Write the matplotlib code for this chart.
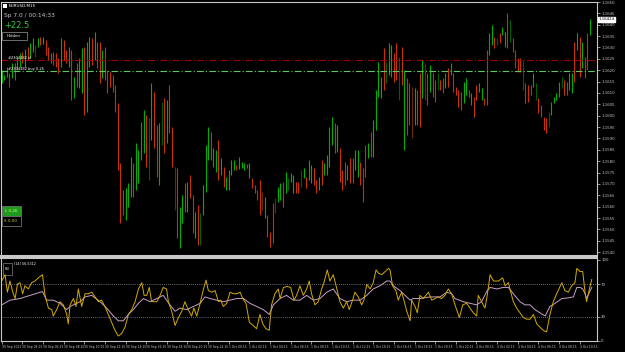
import matplotlib.pyplot as plt
from matplotlib.patches import Rectangle

# M15 bars: high / low and bar colour (g up, r down, d dark up, k dark down)
high = [
    1.16200, 1.16178, 1.16213, 1.16187, 1.16230, 1.16230, 1.16257, 1.16274, 1.16279, 1.16292,
    1.16301, 1.16318, 1.16340, 1.16309, 1.16340, 1.16345, 1.16345, 1.16331, 1.16301, 1.16274,
    1.16279, 1.16274, 1.16252, 1.16340, 1.16331, 1.16288, 1.16301, 1.16288, 1.16169, 1.16230,
    1.16252, 1.16296, 1.16301, 1.16323, 1.16345, 1.16340, 1.16366, 1.16323, 1.16323, 1.16288,
    1.16301, 1.16200, 1.16191, 1.16178, 1.16134, 1.16055, 1.15791, 1.15673, 1.15682, 1.15704,
    1.15818, 1.15791, 1.15879, 1.15849, 1.15971, 1.16024, 1.16002, 1.15989, 1.16143,
    1.16103, 1.15958, 1.15967, 1.16059, 1.16077, 1.16068, 1.16134, 1.15950, 1.15774, 1.15770,
    1.15598, 1.15651, 1.15704, 1.15708, 1.15739, 1.15651, 1.15576, 1.15607, 1.15572, 1.15695,
    1.15870, 1.15950, 1.15928, 1.15857, 1.15849, 1.15892, 1.15813, 1.15774, 1.15730, 1.15761,
    1.15805, 1.15805, 1.15783, 1.15818, 1.15796, 1.15791, 1.15787, 1.15791, 1.15726, 1.15695,
    1.15673, 1.15717, 1.15664, 1.15642, 1.15563, 1.15489, 1.15616, 1.15638, 1.15686, 1.15704,
    1.15708, 1.15752, 1.15726, 1.15748, 1.15739, 1.15708, 1.15708,
    1.15761, 1.15770, 1.15730, 1.15805, 1.15783, 1.15770, 1.15717, 1.15730, 1.15805, 1.15791,
    1.15827, 1.15950, 1.15993, 1.15967, 1.15958, 1.15857, 1.15761, 1.15796, 1.15783, 1.15813,
    1.15813, 1.15849, 1.15849, 1.15796, 1.15770, 1.15870, 1.15879, 1.15928, 1.15980, 1.16112,
    1.16235, 1.16169, 1.16296, 1.16235, 1.16318, 1.16309, 1.16274, 1.16318, 1.16257, 1.16301,
    1.16200, 1.16165, 1.16143, 1.16125, 1.16121, 1.16112, 1.16187, 1.16244, 1.16230, 1.16187,
    1.16222, 1.16187, 1.16156, 1.16187, 1.16156, 1.16165, 1.16187, 1.16209,
    1.16230, 1.16187, 1.16125, 1.16112, 1.16103, 1.16147, 1.16165, 1.16112, 1.16099, 1.16081,
    1.16134, 1.16143, 1.16121, 1.16077, 1.16288, 1.16362, 1.16397, 1.16345, 1.16340, 1.16362,
    1.16389, 1.16366, 1.16450, 1.16419, 1.16340, 1.16288, 1.16252, 1.16252, 1.16244, 1.16143,
    1.16134, 1.16134, 1.16187, 1.16143, 1.16077, 1.16046, 1.15993, 1.15989, 1.16015, 1.16059,
    1.16081, 1.16099, 1.16147, 1.16169, 1.16156, 1.16147, 1.16187, 1.16187, 1.16323, 1.16362,
    1.16345, 1.16323, 1.16257, 1.16362, 1.16424,
]
low = [
    1.16143, 1.16156, 1.16169, 1.16125, 1.16165, 1.16156, 1.16200, 1.16213, 1.16230, 1.16213,
    1.16244, 1.16252, 1.16279, 1.16257, 1.16301, 1.16309, 1.16314, 1.16266, 1.16244, 1.16230,
    1.16222, 1.16213, 1.16187, 1.16213, 1.16244, 1.16230, 1.16213, 1.16068, 1.16077, 1.16125,
    1.16121, 1.16099, 1.16002, 1.16015, 1.16213, 1.16222, 1.16244, 1.16209, 1.16143, 1.16165,
    1.16156, 1.16099, 1.16125, 1.16103, 1.16015, 1.15761, 1.15528, 1.15563, 1.15541, 1.15598,
    1.15642, 1.15642, 1.15673, 1.15704, 1.15805, 1.15835, 1.15774, 1.15717, 1.15892,
    1.15857, 1.15730, 1.15695, 1.15870, 1.15835, 1.15879, 1.15923, 1.15774, 1.15585, 1.15462,
    1.15418, 1.15528, 1.15576, 1.15576, 1.15638, 1.15484, 1.15462, 1.15431, 1.15431, 1.15563,
    1.15664, 1.15805, 1.15805, 1.15774, 1.15752, 1.15717, 1.15739, 1.15686, 1.15673, 1.15673,
    1.15739, 1.15761, 1.15761, 1.15765, 1.15770, 1.15761, 1.15770, 1.15726, 1.15682, 1.15660,
    1.15629, 1.15563, 1.15585, 1.15550, 1.15467, 1.15423, 1.15440, 1.15572, 1.15620, 1.15629,
    1.15598, 1.15660, 1.15673, 1.15708, 1.15660, 1.15660, 1.15660,
    1.15686, 1.15726, 1.15682, 1.15717, 1.15704, 1.15695, 1.15660, 1.15673, 1.15695, 1.15739,
    1.15739, 1.15774, 1.15870, 1.15835, 1.15840, 1.15708, 1.15673, 1.15695, 1.15717, 1.15704,
    1.15704, 1.15761, 1.15730, 1.15695, 1.15620, 1.15730, 1.15813, 1.15818, 1.15818, 1.15936,
    1.16081, 1.16077, 1.16112, 1.16143, 1.16178, 1.16169, 1.16147, 1.16156, 1.16068, 1.16134,
    1.15849, 1.15914, 1.15958, 1.15901, 1.15958, 1.15958, 1.15950, 1.16077, 1.16068, 1.16046,
    1.16103, 1.16081, 1.16059, 1.16112, 1.16112, 1.16099, 1.16121, 1.16125,
    1.16178, 1.16103, 1.16090, 1.16037, 1.16024, 1.16055, 1.16090, 1.16081, 1.16046, 1.15993,
    1.16068, 1.16103, 1.16068, 1.16046, 1.16046, 1.16266, 1.16309, 1.16296, 1.16309, 1.16318,
    1.16353, 1.16301, 1.16296, 1.16323, 1.16279, 1.16209, 1.16191, 1.16191, 1.16112, 1.16055,
    1.16059, 1.16090, 1.16125, 1.16068, 1.16011, 1.15993, 1.15936, 1.15923, 1.15950, 1.16002,
    1.16055, 1.16068, 1.16081, 1.16121, 1.16090, 1.16090, 1.16112, 1.16099, 1.16147, 1.16288,
    1.16169, 1.16209, 1.16165, 1.16200, 1.16353,
]
kind = ("gggrgrggrgrggdgrgrrgrrrgrrgrgrggrggrgrrgrrrrrrrrgggrggggrdg"
        "rrgdrgrrkrggrgrrgrdgggrggrgrggggrgggrgrrrrkgrrrdggrgdggrrd"
        "grggrrgrgg" "ggrgrrrgrr" "ggrrrgrggg" "grdggrrdrg" "rrkgrrgkrg" "rrdrrgrg"
        "rrrrggrgrr" "ggrrggrdrg" "grdrrrrdrr" "rgdrrrrdgg" "ggdrrggrgr" "grrgg")

# oscillator (yellow) and its average (pink), by bar index
osc_idx = [0, 1.3, 2.2, 3.2, 4.3, 5.2, 6.1, 7.1, 8.1, 9.0, 10.3, 11.6, 12.9, 14.2, 15.8, 16.8,
           18.1, 19.4, 20.0, 21.3, 22.6, 23.9, 25.2, 25.8, 26.5, 27.8, 28.8, 29.7, 30.4, 31.0,
           32.3, 33.6, 34.9, 36.2, 37.5, 38.7, 40.0, 41.3, 42.6, 43.9, 45.2, 46.5, 47.8, 49.1,
           50.4, 51.7, 53.0, 54.3, 55.2, 56.2, 57.2, 58.1, 60.1, 61.4, 62.6, 63.9, 64.6, 65.9,
           67.2, 68.5, 69.8, 71.0, 72.3, 73.6, 74.5, 75.6, 76.9, 78.2, 79.2, 80.1, 81.4, 82.7,
           84.0, 84.9, 85.9, 87.2, 88.5, 89.8, 91.1, 92.4, 93.4, 94.7, 96.0, 97.5, 98.8, 100.1,
           101.2, 102.4, 103.7, 104.6, 105.9, 107.2, 107.9, 109.2, 110.7, 112.0, 113.3, 114.3,
           115.6, 116.9, 118.2, 119.2, 120.1, 121.4, 122.7, 124.0, 124.9, 126.2, 127.2, 128.5,
           129.6, 131.1, 132.4, 133.7, 134.7, 136.0, 136.9, 138.2, 139.5, 140.4, 141.5, 142.8,
           144.0, 145.1, 146.0, 147.3, 148.6, 149.9, 150.5, 151.5, 152.8, 153.7, 155.0, 155.9,
           157.0, 158.3, 158.9, 160.2, 161.1, 162.1, 163.4, 165.4, 166.7, 168.0, 169.2, 170.5,
           171.8, 173.1, 174.4, 175.7, 177.4, 178.7, 180.2, 181.5, 182.8, 184.1, 184.7, 186.0,
           187.3, 188.2, 189.3, 190.6, 192.5, 194.2, 195.1, 196.4, 197.0, 198.3, 199.6, 200.9,
           202.2, 203.5, 204.8, 206.1, 207.4, 208.6, 209.9, 211.2, 212.5, 213.8, 215.1, 217.1,
           218.3, 219.6, 220.9, 222.2, 222.9, 224.2, 225.2, 226.1, 226.7, 227.8, 228.7]
osc_val = [74.0, 81.8, 60.2, 74.0, 60.2, 52.4, 70.0, 72.0, 58.3, 68.1, 64.2, 72.0, 74.0, 77.9,
           81.8, 56.3, 40.6, 38.7, 30.8, 38.7, 48.5, 44.6, 32.8, 21.0, 44.6, 52.4, 42.6, 64.2,
           52.4, 42.6, 58.3, 58.3, 60.2, 54.4, 48.5, 50.4, 42.6, 32.8, 23.0, 13.2, 6.1, 9.3,
           17.1, 32.8, 38.7, 48.5, 64.2, 72.0, 56.3, 56.3, 66.1, 48.5, 48.5, 56.3, 66.1, 64.2,
           48.5, 36.7, 19.1, 28.9, 36.7, 48.5, 38.7, 30.8, 40.6, 30.8, 46.5, 64.2, 75.1, 62.2,
           60.2, 62.2, 48.5, 50.4, 42.6, 46.5, 60.2, 58.3, 58.3, 60.2, 52.4, 46.5, 23.0, 19.1,
           15.2, 32.8, 21.0, 15.2, 13.2, 44.6, 58.3, 64.2, 52.4, 66.1, 67.3, 66.1, 50.4, 56.3,
           68.1, 56.3, 64.2, 74.0, 58.3, 44.6, 48.5, 64.2, 72.0, 87.7, 74.0, 81.8, 68.1, 48.5,
           40.6, 48.5, 38.7, 50.4, 60.2, 54.4, 44.6, 50.4, 70.0, 64.2, 72.0, 87.7, 83.8, 81.8,
           85.7, 89.6, 87.7, 68.1, 62.2, 50.4, 60.2, 50.4, 36.7, 24.9, 50.4, 42.6, 34.8, 56.3,
           52.4, 60.2, 50.4, 52.4, 54.4, 52.4, 56.3, 64.2, 58.3, 44.6, 28.9, 44.6, 46.5, 40.6,
           34.8, 30.8, 56.3, 48.5, 40.6, 56.3, 81.8, 74.0, 74.0, 77.9, 68.1, 72.0, 64.2, 48.5,
           40.6, 34.8, 28.9, 26.9, 26.9, 32.8, 21.0, 17.1, 13.2, 11.2, 32.8, 48.5, 58.3, 72.0,
           62.2, 60.2, 68.1, 72.0, 89.6, 85.7, 85.7, 60.2, 48.5, 64.2, 75.9]
avg_idx = [0, 3.2, 7.1, 11.0, 15.8, 17.4, 20.0, 22.6, 25.2, 26.5, 30.4, 32.3, 34.9, 38.1, 40.7,
           43.3, 45.2, 47.1, 49.1, 51.0, 53.0, 54.9, 57.5, 60.1, 62.6, 65.2, 67.2, 69.1, 71.7,
           74.3, 76.9, 78.8, 80.7, 83.3, 85.9, 88.5, 91.1, 93.7, 96.2, 98.8, 101.4, 103.7, 105.3,
           107.9, 110.4, 113.0, 115.6, 118.2, 120.8, 123.4, 126.0, 128.5, 131.1, 133.7, 136.3,
           138.9, 141.5, 144.0, 146.6, 149.2, 150.5, 151.8, 154.4, 157.0, 158.3, 159.5, 162.1,
           166.0, 169.9, 172.5, 174.4, 175.7, 178.9, 181.5, 184.1, 186.0, 188.2, 189.3, 191.9,
           194.4, 196.4, 198.3, 200.9, 202.8, 204.8, 206.7, 208.6, 210.6, 212.5, 214.5, 217.1,
           219.6, 221.6, 222.9, 224.2, 225.2, 226.1, 226.7, 228.7]
avg_val = [44.6, 50.4, 52.4, 56.3, 61.0, 50.4, 50.4, 46.5, 38.7, 42.6, 48.5, 54.4, 56.3, 48.5,
           40.6, 30.8, 24.9, 24.9, 32.8, 38.7, 46.5, 52.4, 48.5, 52.4, 56.3, 44.6, 36.7, 40.6,
           38.7, 42.6, 46.5, 54.4, 52.4, 50.4, 48.5, 50.4, 52.4, 52.4, 46.5, 42.6, 38.7, 32.8,
           44.6, 52.4, 56.3, 50.4, 50.4, 56.3, 50.4, 52.4, 60.2, 64.2, 52.4, 48.5, 50.4, 50.4,
           56.3, 64.2, 68.1, 74.0, 74.0, 68.1, 62.2, 54.4, 50.4, 52.4, 52.4, 54.4, 54.4, 60.2,
           58.3, 52.4, 48.5, 46.5, 44.6, 48.5, 62.2, 66.1, 64.2, 66.1, 66.1, 58.3, 48.5, 44.6,
           44.6, 38.7, 34.8, 30.8, 42.6, 46.5, 52.4, 53.2, 54.4, 66.1, 66.1, 64.2, 58.3, 52.4,
           66.1]

price_ticks = [1.1650, 1.1645, 1.1640, 1.1635, 1.1630, 1.1625, 1.1620, 1.1615, 1.1610, 1.1605,
               1.1600, 1.1595, 1.1590, 1.1585, 1.1580, 1.1575, 1.1570, 1.1565, 1.1560, 1.1555,
               1.1550, 1.1545, 1.1540]
time_labels = ["30 Sep 2021", "30 Sep 04:15", "30 Sep 06:15", "30 Sep 08:15", "30 Sep 10:15",
               "30 Sep 12:15", "30 Sep 14:15", "30 Sep 16:15", "30 Sep 18:15", "30 Sep 20:15",
               "30 Sep 22:15", "1 Oct 00:15", "1 Oct 02:15", "1 Oct 04:15", "1 Oct 06:15",
               "1 Oct 08:15", "1 Oct 10:15", "1 Oct 12:15", "1 Oct 14:15", "1 Oct 16:15",
               "1 Oct 18:15", "1 Oct 20:15", "1 Oct 22:15", "4 Oct 00:15", "4 Oct 02:15",
               "4 Oct 04:15", "4 Oct 06:15", "4 Oct 08:15", "4 Oct 10:15"]
last_price = 1.16424
red_level = 1.16244
green_level = 1.16195

W, H = 625, 352
BAR_W = 2.58
colors = {"g": "#00b000", "r": "#c83200", "d": "#005f00", "k": "#6e2800"}
fg = "#c8c8c8"

fig = plt.figure(figsize=(W / 100, H / 100), dpi=100, facecolor="black")


def box(x0, y0, x1, y1):
    return [x0 / W, 1 - y1 / H, (x1 - x0) / W, (y1 - y0) / H]


def px(x, y):
    return x / W, 1 - y / H


xlim = (-0.7 / BAR_W, 595.3 / BAR_W)

# main price panel
ax = fig.add_axes(box(1, 2, 597, 256))
ax.set_facecolor("black")
ax.vlines(range(len(high)), low, high, colors=[colors[c] for c in kind], lw=0.8)
ax.set_xlim(*xlim)
ax.set_ylim(1.16507 - 256 * 0.0000439, 1.16507 - 2 * 0.0000439)
ax.axhline(red_level, color="#a00000", lw=0.8, ls=(0, (6, 2, 1, 2)))
ax.axhline(green_level, color="#5cc85c", lw=0.8, ls=(0, (6, 2, 1, 2)))
ax.set_xticks([])
ax.yaxis.tick_right()
ax.set_yticks(price_ticks)
ax.set_yticklabels(["%.4f" % p for p in price_ticks])
ax.tick_params(axis="y", colors=fg, labelsize=2.8, length=2, width=0.5, pad=1)
for s in ax.spines.values():
    s.set_color(fg)
    s.set_linewidth(0.8)
ax.spines["bottom"].set_linewidth(1.5)
ax.text(1.002, last_price, "%.5f" % last_price, transform=ax.get_yaxis_transform(),
        fontsize=2.8, color="black", va="center", ha="left",
        bbox=dict(boxstyle="square,pad=0.15", fc="white", ec="white"))

ax.text(0.012, red_level + 0.00006, "#2304482 sl", fontsize=2.6, color="white",
        transform=ax.get_yaxis_transform())
ax.text(0.012, green_level + 0.00006, "#2304482 buy 0.26", fontsize=2.6, color="white",
        transform=ax.get_yaxis_transform())

# oscillator panel
ax2 = fig.add_axes(box(1, 258, 597, 341))
ax2.set_facecolor("black")
ax2.plot(avg_idx, avg_val, color="#c8a0c8", lw=0.7)
ax2.plot(osc_idx, osc_val, color="#d2aa00", lw=0.7)
ax2.axhline(70, color="#909090", lw=0.6, ls=(0, (1, 1.5)))
ax2.axhline(30, color="#909090", lw=0.6, ls=(0, (1, 1.5)))
ax2.set_xlim(*xlim)
ax2.set_ylim((343 - 341) / 0.83, (343 - 258) / 0.83)
ax2.yaxis.tick_right()
ax2.set_yticks([100, 70, 30, 0])
ax2.tick_params(axis="y", colors=fg, labelsize=2.8, length=2, width=0.5, pad=1)
ax2.set_xticks([8 * k for k in range(len(time_labels))])
ax2.set_xticklabels(time_labels, ha="left")
ax2.tick_params(axis="x", colors=fg, labelsize=2.2, length=2, width=0.5, pad=1)
for s in ax2.spines.values():
    s.set_color(fg)
    s.set_linewidth(0.8)
ax2.spines["top"].set_linewidth(1.5)
ax2.add_patch(Rectangle((0.004, 0.8), 0.014, 0.14, transform=ax2.transAxes,
                        fc="black", ec="#808080", lw=0.5))
ax2.text(0.011, 0.87, "RSI", transform=ax2.transAxes, fontsize=2.2, color="white",
         ha="center", va="center")
ax2.text(0.022, 0.93, "(14) 56.5312", transform=ax2.transAxes, fontsize=2.4, color="white",
         va="center")

# header texts
fig.patches.append(Rectangle(px(3, 8), 4 / W, 4 / H, transform=fig.transFigure, fc="white"))
fig.text(*px(9, 6), "EURUSD,M15", fontsize=3, color="white", va="center")
fig.text(*px(4, 15), "Sp 7.0 / 00:14:33", fontsize=4.2, color="#c8c8c8", va="center")
fig.text(*px(4, 26), "+22.5", fontsize=6, color="#32cd32", va="center")
fig.patches.append(Rectangle(px(2, 40), 25 / W, 8 / H, transform=fig.transFigure,
                             fc="black", ec="#808080", lw=0.6))
fig.text(*px(14, 36), "Hidden", fontsize=2.8, color="white", va="center", ha="center")

# order buttons
fig.patches.append(Rectangle(px(2, 216), 19 / W, 10 / H, transform=fig.transFigure,
                             fc="#1e9b1e", ec="#707070", lw=0.6))
fig.text(*px(11, 211), "L 0.26", fontsize=3, color="#d0ff60", va="center", ha="center")
fig.patches.append(Rectangle(px(2, 226), 19 / W, 10 / H, transform=fig.transFigure,
                             fc="black", ec="#707070", lw=0.6))
fig.text(*px(11, 221), "S 0.00", fontsize=3, color="#c8c832", va="center", ha="center")

fig.savefig("out.png", dpi=100, facecolor="black")
